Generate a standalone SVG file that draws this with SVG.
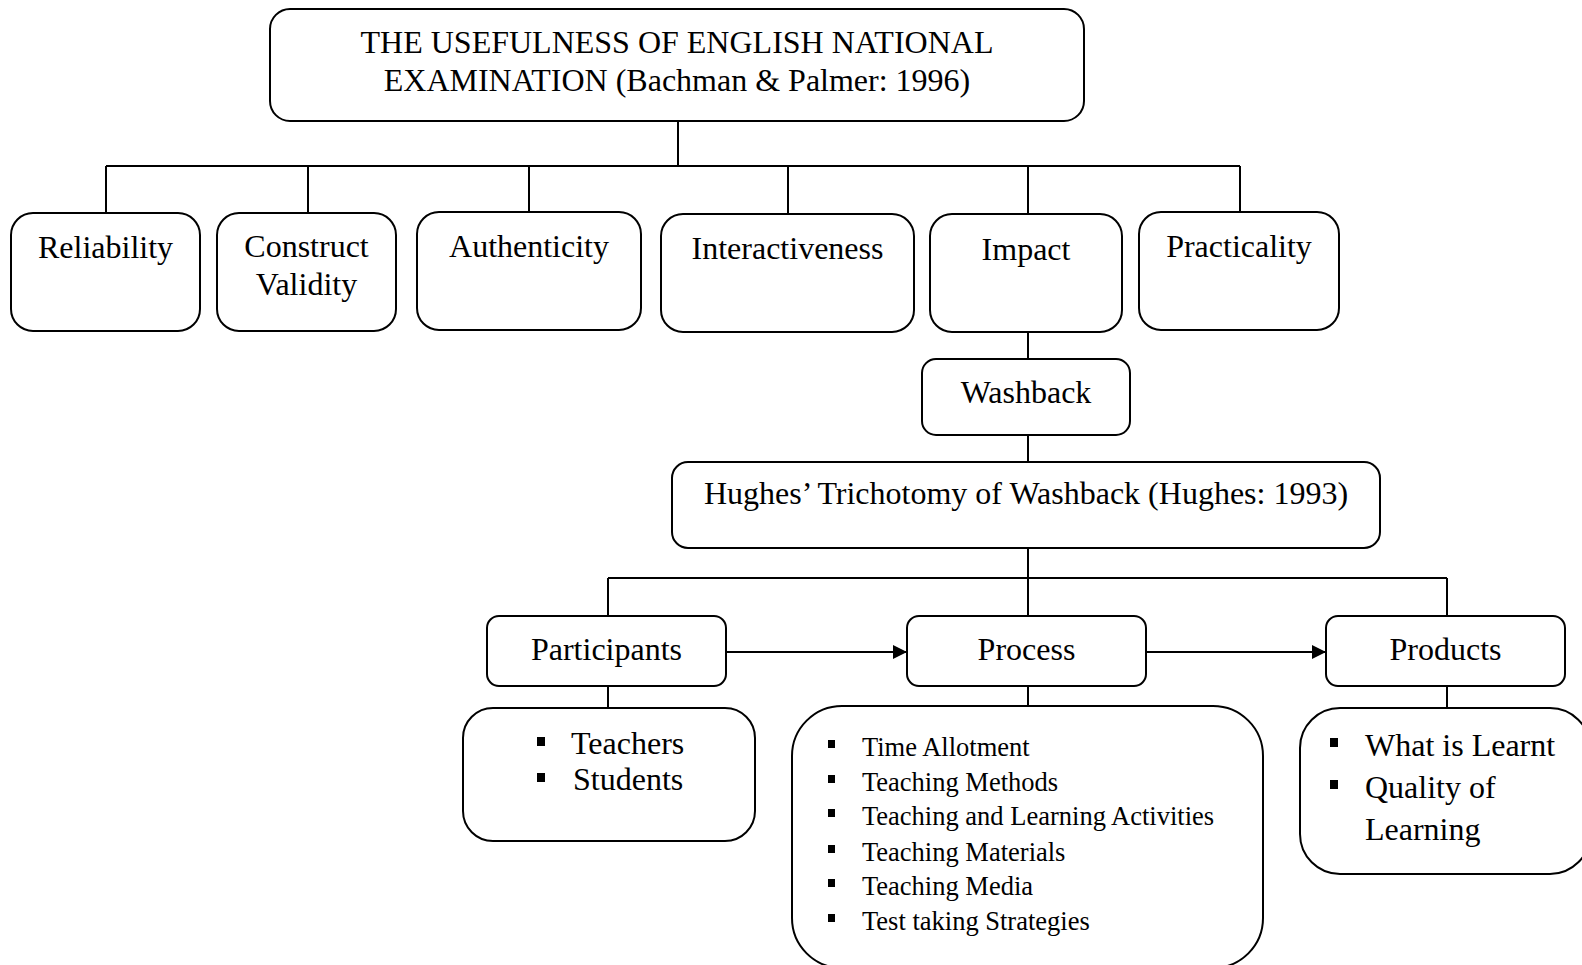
<svg xmlns="http://www.w3.org/2000/svg" width="1582" height="965" viewBox="0 0 1582 965">
<style>
.b{fill:#fff;stroke:#000;stroke-width:2}
.t{font-family:"Liberation Serif","Times New Roman",serif;font-size:32px;fill:#000;text-anchor:middle}
.s{font-family:"Liberation Serif","Times New Roman",serif;font-size:26.5px;fill:#000}
.l{font-family:"Liberation Serif","Times New Roman",serif;font-size:32px;fill:#000}
.c{fill:none;stroke:#000;stroke-width:2}
</style>
<defs>
<marker id="ah" viewBox="0 0 10 10" refX="10" refY="5" markerWidth="7" markerHeight="7" orient="auto" markerUnits="strokeWidth">
<path d="M0,0 L10,5 L0,10 Z" fill="#000"/>
</marker>
</defs>
<g id="connectors">
<path class="c" d="M678,121 V166 M106,166 H1240 M106,166 V213 M308,166 V213 M529,166 V212 M788,166 V214 M1028,166 V214 M1240,166 V212"/>
<path class="c" d="M1028,332 V359 M1028,435 V462 M1028,548 V578 M608,578 H1447 M608,578 V616 M1028,578 V616 M1447,578 V616"/>
<path class="c" d="M608,686 V708 M1028,686 V706 M1447,686 V708"/>
<path class="c" d="M726,652 H907" marker-end="url(#ah)"/>
<path class="c" d="M1146,652 H1326" marker-end="url(#ah)"/>
</g>
<g id="title">
<rect class="b" x="270" y="9" width="814" height="112" rx="20"/>
<text class="t" x="677" y="53">THE USEFULNESS OF ENGLISH NATIONAL</text>
<text class="t" x="677" y="91">EXAMINATION (Bachman &amp; Palmer: 1996)</text>
</g>
<g id="reliability">
<rect class="b" x="11" y="213" width="189" height="118" rx="22"/>
<text class="t" x="105.5" y="258">Reliability</text>
</g>
<g id="construct-validity">
<rect class="b" x="217" y="213" width="179" height="118" rx="22"/>
<text class="t" x="306.5" y="257">Construct</text>
<text class="t" x="306.5" y="295">Validity</text>
</g>
<g id="authenticity">
<rect class="b" x="417" y="212" width="224" height="118" rx="22"/>
<text class="t" x="529" y="257">Authenticity</text>
</g>
<g id="interactiveness">
<rect class="b" x="661" y="214" width="253" height="118" rx="22"/>
<text class="t" x="787.5" y="259">Interactiveness</text>
</g>
<g id="impact">
<rect class="b" x="930" y="214" width="192" height="118" rx="22"/>
<text class="t" x="1026" y="260">Impact</text>
</g>
<g id="practicality">
<rect class="b" x="1139" y="212" width="200" height="118" rx="22"/>
<text class="t" x="1239" y="257">Practicality</text>
</g>
<g id="washback">
<rect class="b" x="922" y="359" width="208" height="76" rx="14"/>
<text class="t" x="1026" y="403">Washback</text>
</g>
<g id="hughes">
<rect class="b" x="672" y="462" width="708" height="86" rx="16"/>
<text class="t" x="1026" y="504">Hughes’ Trichotomy of Washback (Hughes: 1993)</text>
</g>
<g id="participants">
<rect class="b" x="487" y="616" width="239" height="70" rx="12"/>
<text class="t" x="606.5" y="660">Participants</text>
</g>
<g id="process">
<rect class="b" x="907" y="616" width="239" height="70" rx="12"/>
<text class="t" x="1026.5" y="660">Process</text>
</g>
<g id="products">
<rect class="b" x="1326" y="616" width="239" height="70" rx="12"/>
<text class="t" x="1445.5" y="660">Products</text>
</g>
<g id="participants-list">
<rect class="b" x="463" y="708" width="292" height="133" rx="30"/>
<rect x="537" y="737" width="8" height="9"/>
<rect x="537" y="773" width="8" height="9"/>
<text class="l" x="571" y="754">Teachers</text>
<text class="l" x="573" y="790">Students</text>
</g>
<g id="process-list">
<rect class="b" x="792" y="706" width="471" height="262" rx="50"/>
<rect x="828" y="740" width="7" height="8"/>
<rect x="828" y="775" width="7" height="8"/>
<rect x="828" y="809" width="7" height="8"/>
<rect x="828" y="845" width="7" height="8"/>
<rect x="828" y="879" width="7" height="8"/>
<rect x="828" y="914" width="7" height="8"/>
<text class="s" x="862" y="756">Time Allotment</text>
<text class="s" x="862" y="791">Teaching Methods</text>
<text class="s" x="862" y="825">Teaching and Learning Activities</text>
<text class="s" x="862" y="861">Teaching Materials</text>
<text class="s" x="862" y="895">Teaching Media</text>
<text class="s" x="862" y="930">Test taking Strategies</text>
</g>
<g id="products-list">
<rect class="b" x="1300" y="708" width="290" height="166" rx="40"/>
<rect x="1330" y="738" width="8" height="9"/>
<rect x="1330" y="780" width="8" height="9"/>
<text class="l" x="1365" y="756">What is Learnt</text>
<text class="l" x="1365" y="798">Quality of</text>
<text class="l" x="1365" y="840">Learning</text>
</g>
</svg>
